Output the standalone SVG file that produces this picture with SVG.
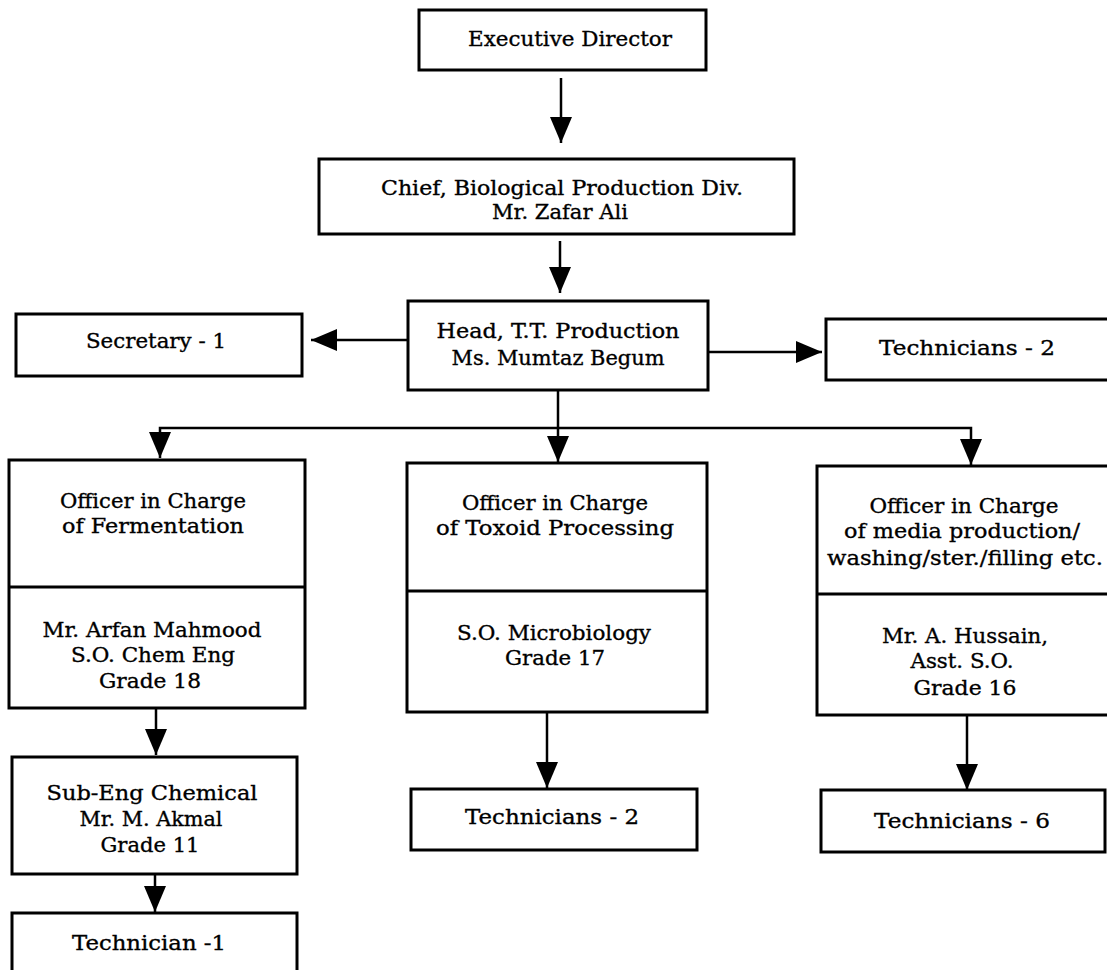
<svg xmlns="http://www.w3.org/2000/svg" width="1107" height="970" viewBox="0 0 1107 970">
<style>
.box{fill:#fff;stroke:#000;stroke-width:3}
.div{stroke:#000;stroke-width:3}
.t{font-family:"DejaVu Serif","Liberation Serif",serif;font-size:21px;fill:#000;stroke:#000;stroke-width:0.35;text-anchor:middle}
.c{fill:none;stroke:#000;stroke-width:2.5}
</style>
<defs>
<marker id="ah" markerUnits="userSpaceOnUse" markerWidth="27" markerHeight="22" refX="26" refY="11" orient="auto" viewBox="0 0 27 22">
<path d="M0,0 L26,11 L0,22 z" fill="#000"/>
</marker>
</defs>
<rect width="1107" height="970" fill="#fff"/>
<g id="connectors">
<path class="c" d="M561,78 V143" marker-end="url(#ah)"/>
<path class="c" d="M560,241 V293" marker-end="url(#ah)"/>
<path class="c" d="M408,340 H311" marker-end="url(#ah)"/>
<path class="c" d="M708,352 H822" marker-end="url(#ah)"/>
<path class="c" d="M558,390 V462" marker-end="url(#ah)"/>
<path class="c" d="M558,428 H160 V458" marker-end="url(#ah)"/>
<path class="c" d="M558,428 H971 V465" marker-end="url(#ah)"/>
<path class="c" d="M156,708 V755" marker-end="url(#ah)"/>
<path class="c" d="M155,875 V912" marker-end="url(#ah)"/>
<path class="c" d="M547,712 V788" marker-end="url(#ah)"/>
<path class="c" d="M967,716 V790" marker-end="url(#ah)"/>
</g>
<g id="executive-director">
<rect class="box" x="419" y="10" width="287" height="60"/>
<text class="t" x="570" y="46" textLength="204" lengthAdjust="spacingAndGlyphs">Executive Director</text>
</g>
<g id="chief">
<rect class="box" x="319" y="159" width="475" height="75"/>
<text class="t" x="562" y="195" textLength="362" lengthAdjust="spacingAndGlyphs">Chief, Biological Production Div.</text>
<text class="t" x="560" y="219" textLength="136" lengthAdjust="spacingAndGlyphs">Mr. Zafar Ali</text>
</g>
<g id="head">
<rect class="box" x="408" y="301" width="300" height="89"/>
<text class="t" x="558" y="338" textLength="243" lengthAdjust="spacingAndGlyphs">Head, T.T. Production</text>
<text class="t" x="558" y="365" textLength="213" lengthAdjust="spacingAndGlyphs">Ms. Mumtaz Begum</text>
</g>
<g id="secretary">
<rect class="box" x="16" y="314" width="286" height="62"/>
<text class="t" x="156" y="348" textLength="140" lengthAdjust="spacingAndGlyphs">Secretary - 1</text>
</g>
<g id="technicians-head">
<rect class="box" x="826" y="319" width="290" height="61"/>
<text class="t" x="967" y="355" textLength="176" lengthAdjust="spacingAndGlyphs">Technicians - 2</text>
</g>
<g id="officer-fermentation">
<rect class="box" x="9" y="460" width="296" height="248"/>
<line class="div" x1="9" y1="587" x2="305" y2="587"/>
<text class="t" x="153" y="508" textLength="186" lengthAdjust="spacingAndGlyphs">Officer in Charge</text>
<text class="t" x="153" y="533" textLength="182" lengthAdjust="spacingAndGlyphs">of Fermentation</text>
<text class="t" x="152" y="637" textLength="219" lengthAdjust="spacingAndGlyphs">Mr. Arfan Mahmood</text>
<text class="t" x="153" y="662" textLength="164" lengthAdjust="spacingAndGlyphs">S.O. Chem Eng</text>
<text class="t" x="150" y="688" textLength="102" lengthAdjust="spacingAndGlyphs">Grade 18</text>
</g>
<g id="officer-toxoid">
<rect class="box" x="407" y="463" width="300" height="249"/>
<line class="div" x1="407" y1="591" x2="707" y2="591"/>
<text class="t" x="555" y="510" textLength="186" lengthAdjust="spacingAndGlyphs">Officer in Charge</text>
<text class="t" x="555" y="535" textLength="238" lengthAdjust="spacingAndGlyphs">of Toxoid Processing</text>
<text class="t" x="554" y="640" textLength="194" lengthAdjust="spacingAndGlyphs">S.O. Microbiology</text>
<text class="t" x="555" y="665" textLength="100" lengthAdjust="spacingAndGlyphs">Grade 17</text>
</g>
<g id="officer-media">
<rect class="box" x="817" y="466" width="300" height="249"/>
<line class="div" x1="817" y1="594" x2="1117" y2="594"/>
<text class="t" x="964" y="513" textLength="189" lengthAdjust="spacingAndGlyphs">Officer in Charge</text>
<text class="t" x="962" y="538" textLength="236" lengthAdjust="spacingAndGlyphs">of media production/</text>
<text class="t" x="965" y="565" textLength="276" lengthAdjust="spacingAndGlyphs">washing/ster./filling etc.</text>
<text class="t" x="965" y="643" textLength="166" lengthAdjust="spacingAndGlyphs">Mr. A. Hussain,</text>
<text class="t" x="962" y="668" textLength="103" lengthAdjust="spacingAndGlyphs">Asst. S.O.</text>
<text class="t" x="965" y="695" textLength="103" lengthAdjust="spacingAndGlyphs">Grade 16</text>
</g>
<g id="sub-eng">
<rect class="box" x="12" y="757" width="285" height="117"/>
<text class="t" x="152" y="800" textLength="211" lengthAdjust="spacingAndGlyphs">Sub-Eng Chemical</text>
<text class="t" x="151" y="826" textLength="143" lengthAdjust="spacingAndGlyphs">Mr. M. Akmal</text>
<text class="t" x="150" y="852" textLength="99" lengthAdjust="spacingAndGlyphs">Grade 11</text>
</g>
<g id="technician-1">
<rect class="box" x="12" y="913" width="285" height="70"/>
<text class="t" x="149" y="950" textLength="154" lengthAdjust="spacingAndGlyphs">Technician -1</text>
</g>
<g id="technicians-toxoid">
<rect class="box" x="411" y="789" width="286" height="61"/>
<text class="t" x="552" y="824" textLength="174" lengthAdjust="spacingAndGlyphs">Technicians - 2</text>
</g>
<g id="technicians-media">
<rect class="box" x="821" y="790" width="284" height="62"/>
<text class="t" x="962" y="828" textLength="176" lengthAdjust="spacingAndGlyphs">Technicians - 6</text>
</g>
</svg>
